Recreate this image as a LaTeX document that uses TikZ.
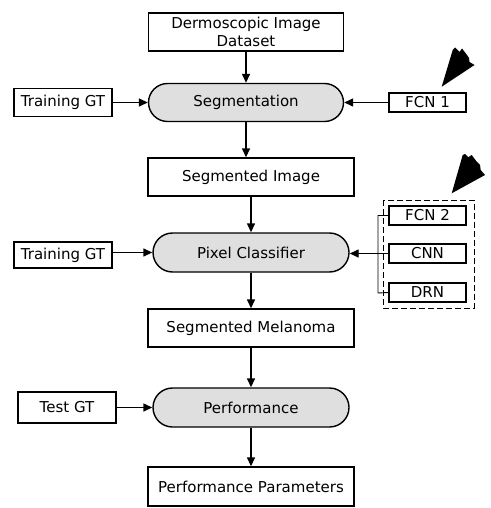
\documentclass[tikz,border=0pt]{standalone}
\usepackage{fontspec}
\setmainfont{DejaVu Sans}
\usetikzlibrary{shapes.misc,arrows.meta}
\begin{document}
\begin{tikzpicture}[x=1pt,y=-1pt,
  every node/.style={font=\fontsize{15}{18}\selectfont, inner sep=0pt},
  box/.style={draw, line width=1.4pt, rectangle},
  proc/.style={draw, line width=1.4pt, rounded rectangle, fill=gray!25, minimum width=196pt, minimum height=39pt},
  small/.style={box, minimum width=77pt, minimum height=19pt},
  arr/.style={line width=1.4pt, -{Triangle[length=9pt,width=8pt]}},
  wire/.style={line width=0.9pt},
  bigarrow/.style={fill=black}
]
\useasboundingbox (0,0) rectangle (490,508);
\fill[white] (0,0) rectangle (490,508);

\node[box, minimum width=195pt, minimum height=38pt, align=center] (data) at (246,32) {Dermoscopic Image\\Dataset};
\node[proc, minimum width=195pt, minimum height=38pt] (seg) at (246,102.5) {Segmentation};
\node[box, minimum width=98pt, minimum height=28pt] (tgt1) at (63,102.5) {Training GT};
\node[small] (fcn1) at (427.5,102.5) {FCN 1};

\node[box, minimum width=206pt, minimum height=38pt] (segimg) at (251,177) {Segmented Image};
\node[proc] (pix) at (251,252.5) {Pixel Classifier};
\node[box, minimum width=98pt, minimum height=26pt] (tgt2) at (63,255) {Training GT};
\node[small] (fcn2) at (427.5,215.5) {FCN 2};
\node[small] (cnn) at (427.5,253.5) {CNN};
\node[small] (drn) at (427.5,292.5) {DRN};
\draw[line width=1pt, dashed, dash pattern=on 6pt off 3pt] (383,200) rectangle (474,308);

\node[box, minimum width=206pt, minimum height=38pt] (segmel) at (251,328) {Segmented Melanoma};
\node[proc] (perf) at (251,407.5) {Performance};
\node[box, minimum width=98pt, minimum height=31pt] (testgt) at (67,407.5) {Test GT};
\node[box, minimum width=206pt, minimum height=39pt] (params) at (251,486.5) {Performance Parameters};

\draw[arr] (data.south) -- (seg.north);
\draw[arr] (tgt1.east) -- (seg.west);
\draw[arr] (fcn1.west) -- (seg.east);
\draw[arr] (seg.south) -- (seg.south |- segimg.north);
\draw[arr] (segimg.south) -- (pix.north);
\draw[arr] (tgt2.east |- pix.west) -- (pix.west);
\draw[arr] (cnn.west) -- (cnn.west -| pix.east);
\coordinate (bt) at (378,215);
\coordinate (bb) at (378,293);
\draw[wire] (fcn2.west) -- (fcn2.west -| bt) -- (bb) -- (drn.west);
\draw[arr] (pix.south) -- (segmel.north);
\draw[arr] (segmel.south) -- (perf.north);
\draw[arr] (testgt.east) -- (perf.west);
\draw[arr] (perf.south) -- (params.north);

\fill[bigarrow] (441.7,86.7) -- (452.7,50) -- (455,47.5) -- (459.5,52) -- (462,48.5) -- (467,55) -- (469,58) -- (469.5,62) -- (474.5,65) -- cycle;
\fill[bigarrow] (451.7,193.3) -- (462.7,155) -- (465,154) -- (468.3,157.3) -- (471.7,155) -- (476.7,161.7) -- (480,165) -- (480.7,170) -- (485,175) -- cycle;
\end{tikzpicture}
\end{document}
